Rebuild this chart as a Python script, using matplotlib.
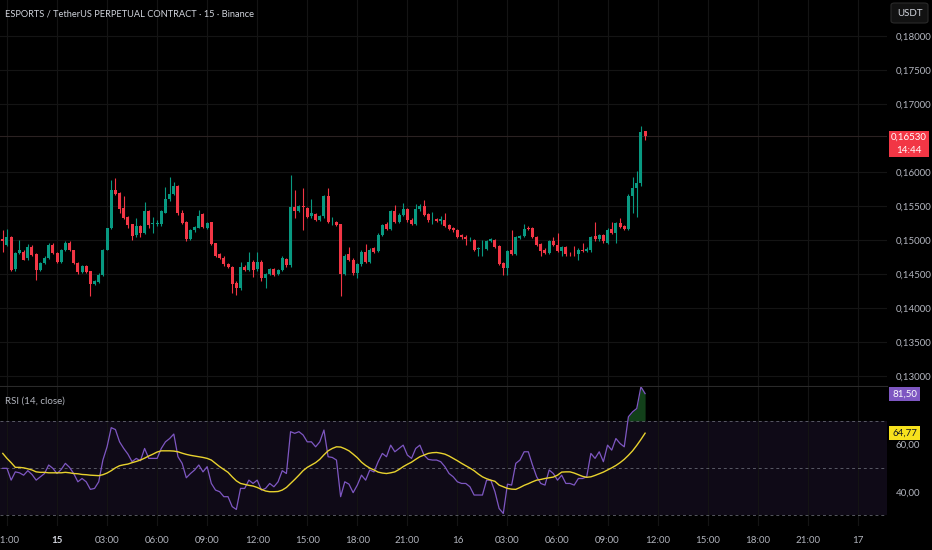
"""Recreate the ESPORTS/USDT 15m TradingView chart with RSI pane."""

import numpy as np
import matplotlib.pyplot as plt
import matplotlib.patches as mpatches

# ── Data ─────────────────────────────────────────────────────────────────────
opens = [
    0.1502, 0.1493, 0.1505, 0.1457, 0.1481, 0.1483, 0.1473, 0.1490, 0.1480, 0.1456,
    0.1466, 0.1474, 0.1493, 0.1481, 0.1468, 0.1485, 0.1496, 0.1485, 0.1466, 0.1453,
    0.1462, 0.1454, 0.1436, 0.1438, 0.1448, 0.1486, 0.1517, 0.1573, 0.1569, 0.1547,
    0.1534, 0.1523, 0.1507, 0.1520, 0.1510, 0.1542, 0.1523, 0.1524, 0.1523, 0.1540,
    0.1560, 0.1568, 0.1579, 0.1539, 0.1527, 0.1502, 0.1514, 0.1518, 0.1538, 0.1518,
    0.1526, 0.1495, 0.1479, 0.1474, 0.1464, 0.1461, 0.1437, 0.1429, 0.1461, 0.1456,
    0.1468, 0.1457, 0.1468, 0.1444, 0.1450, 0.1457, 0.1450, 0.1456, 0.1472, 0.1463,
    0.1548, 0.1543, 0.1550, 0.1547, 0.1535, 0.1538, 0.1530, 0.1535, 0.1564, 0.1526,
    0.1526, 0.1523, 0.1450, 0.1479, 0.1471, 0.1451, 0.1464, 0.1483, 0.1468, 0.1488,
    0.1484, 0.1508, 0.1524, 0.1516, 0.1542, 0.1527, 0.1537, 0.1545, 0.1530, 0.1524,
    0.1545, 0.1550, 0.1538, 0.1529, 0.1531, 0.1528, 0.1530, 0.1522, 0.1517, 0.1515,
    0.1507, 0.1505, 0.1501, 0.1500, 0.1487, 0.1488, 0.1487, 0.1499, 0.1500, 0.1491,
    0.1466, 0.1459, 0.1485, 0.1480, 0.1503, 0.1506, 0.1517, 0.1517, 0.1504, 0.1494,
    0.1486, 0.1481, 0.1498, 0.1493, 0.1484, 0.1489, 0.1480, 0.1480, 0.1479, 0.1486,
    0.1484, 0.1485, 0.1506, 0.1501, 0.1507, 0.1496, 0.1516, 0.1511, 0.1525, 0.1520,
    0.1516, 0.1565, 0.1576, 0.1584, 0.1660,
]
highs = [
    0.1515, 0.1516, 0.1506, 0.1483, 0.1500, 0.1486, 0.1494, 0.1492, 0.1481, 0.1467,
    0.1476, 0.1495, 0.1495, 0.1482, 0.1487, 0.1498, 0.1498, 0.1486, 0.1467, 0.1463,
    0.1463, 0.1455, 0.1441, 0.1451, 0.1487, 0.1518, 0.1588, 0.1591, 0.1570, 0.1564,
    0.1536, 0.1524, 0.1532, 0.1522, 0.1556, 0.1544, 0.1534, 0.1530, 0.1544, 0.1578,
    0.1593, 0.1586, 0.1581, 0.1544, 0.1528, 0.1516, 0.1521, 0.1544, 0.1540, 0.1527,
    0.1527, 0.1496, 0.1481, 0.1476, 0.1466, 0.1462, 0.1440, 0.1468, 0.1463, 0.1483,
    0.1470, 0.1483, 0.1470, 0.1452, 0.1459, 0.1459, 0.1458, 0.1476, 0.1474, 0.1596,
    0.1574, 0.1552, 0.1576, 0.1549, 0.1561, 0.1540, 0.1537, 0.1566, 0.1576, 0.1534,
    0.1528, 0.1524, 0.1479, 0.1490, 0.1473, 0.1466, 0.1485, 0.1494, 0.1488, 0.1490,
    0.1510, 0.1524, 0.1526, 0.1544, 0.1552, 0.1539, 0.1554, 0.1547, 0.1532, 0.1553,
    0.1553, 0.1559, 0.1540, 0.1541, 0.1533, 0.1535, 0.1539, 0.1524, 0.1519, 0.1516,
    0.1509, 0.1507, 0.1504, 0.1502, 0.1490, 0.1500, 0.1500, 0.1503, 0.1502, 0.1492,
    0.1467, 0.1486, 0.1515, 0.1506, 0.1508, 0.1524, 0.1521, 0.1519, 0.1506, 0.1496,
    0.1488, 0.1500, 0.1505, 0.1510, 0.1491, 0.1491, 0.1482, 0.1491, 0.1488, 0.1495,
    0.1489, 0.1506, 0.1527, 0.1509, 0.1509, 0.1517, 0.1527, 0.1527, 0.1532, 0.1522,
    0.1567, 0.1593, 0.1601, 0.1668, 0.1661,
]
lows = [
    0.1483, 0.1491, 0.1455, 0.1455, 0.1480, 0.1470, 0.1470, 0.1477, 0.1441, 0.1454,
    0.1464, 0.1472, 0.1480, 0.1466, 0.1466, 0.1484, 0.1484, 0.1465, 0.1450, 0.1451,
    0.1452, 0.1418, 0.1434, 0.1437, 0.1447, 0.1485, 0.1516, 0.1566, 0.1540, 0.1531,
    0.1517, 0.1500, 0.1505, 0.1505, 0.1509, 0.1518, 0.1510, 0.1520, 0.1521, 0.1539,
    0.1558, 0.1566, 0.1537, 0.1523, 0.1499, 0.1500, 0.1512, 0.1517, 0.1517, 0.1516,
    0.1493, 0.1475, 0.1472, 0.1462, 0.1459, 0.1422, 0.1419, 0.1427, 0.1454, 0.1454,
    0.1446, 0.1455, 0.1439, 0.1429, 0.1448, 0.1447, 0.1448, 0.1454, 0.1461, 0.1461,
    0.1532, 0.1541, 0.1515, 0.1532, 0.1533, 0.1528, 0.1528, 0.1533, 0.1525, 0.1522,
    0.1520, 0.1417, 0.1448, 0.1469, 0.1449, 0.1444, 0.1462, 0.1466, 0.1466, 0.1481,
    0.1482, 0.1506, 0.1514, 0.1514, 0.1525, 0.1525, 0.1535, 0.1527, 0.1522, 0.1522,
    0.1543, 0.1535, 0.1527, 0.1524, 0.1526, 0.1524, 0.1519, 0.1514, 0.1512, 0.1503,
    0.1502, 0.1493, 0.1499, 0.1484, 0.1476, 0.1476, 0.1485, 0.1497, 0.1488, 0.1463,
    0.1449, 0.1449, 0.1478, 0.1478, 0.1501, 0.1504, 0.1514, 0.1503, 0.1491, 0.1476,
    0.1479, 0.1479, 0.1491, 0.1482, 0.1476, 0.1477, 0.1477, 0.1477, 0.1471, 0.1483,
    0.1482, 0.1483, 0.1499, 0.1499, 0.1496, 0.1494, 0.1509, 0.1495, 0.1517, 0.1514,
    0.1514, 0.1540, 0.1534, 0.1580, 0.1647,
]
closes = [
    0.1498, 0.1505, 0.1456, 0.1481, 0.1485, 0.1471, 0.1490, 0.1478, 0.1456, 0.1466,
    0.1474, 0.1493, 0.1481, 0.1468, 0.1485, 0.1496, 0.1485, 0.1466, 0.1453, 0.1462,
    0.1453, 0.1436, 0.1439, 0.1449, 0.1486, 0.1517, 0.1573, 0.1568, 0.1545, 0.1533,
    0.1522, 0.1506, 0.1521, 0.1511, 0.1543, 0.1522, 0.1525, 0.1525, 0.1542, 0.1560,
    0.1568, 0.1579, 0.1539, 0.1525, 0.1501, 0.1514, 0.1519, 0.1535, 0.1519, 0.1525,
    0.1494, 0.1477, 0.1474, 0.1464, 0.1461, 0.1436, 0.1429, 0.1461, 0.1456, 0.1468,
    0.1456, 0.1468, 0.1444, 0.1450, 0.1457, 0.1449, 0.1456, 0.1473, 0.1463, 0.1548,
    0.1543, 0.1550, 0.1548, 0.1534, 0.1539, 0.1530, 0.1535, 0.1564, 0.1527, 0.1527,
    0.1522, 0.1450, 0.1477, 0.1471, 0.1451, 0.1465, 0.1483, 0.1468, 0.1486, 0.1483,
    0.1508, 0.1522, 0.1516, 0.1542, 0.1527, 0.1537, 0.1545, 0.1529, 0.1524, 0.1545,
    0.1550, 0.1537, 0.1529, 0.1530, 0.1528, 0.1531, 0.1521, 0.1516, 0.1514, 0.1505,
    0.1504, 0.1501, 0.1502, 0.1486, 0.1488, 0.1488, 0.1498, 0.1501, 0.1490, 0.1465,
    0.1459, 0.1484, 0.1480, 0.1504, 0.1506, 0.1516, 0.1516, 0.1505, 0.1493, 0.1484,
    0.1481, 0.1498, 0.1493, 0.1484, 0.1489, 0.1479, 0.1479, 0.1479, 0.1486, 0.1484,
    0.1487, 0.1504, 0.1501, 0.1507, 0.1498, 0.1515, 0.1511, 0.1525, 0.1519, 0.1516,
    0.1565, 0.1576, 0.1584, 0.1659, 0.1653,
]
rsi = [
    49.9, 49.9, 44.9, 48.4, 48.0, 47.0, 48.9, 47.3, 44.9, 46.3,
    47.7, 51.3, 49.9, 47.7, 49.4, 52.0, 50.3, 47.7, 44.2, 45.6,
    44.2, 41.0, 41.4, 44.2, 53.4, 59.0, 67.1, 66.3, 61.1, 58.3,
    55.9, 52.7, 54.1, 53.1, 58.3, 54.1, 54.1, 54.1, 58.3, 61.1,
    62.5, 64.4, 54.8, 52.0, 45.9, 47.7, 49.2, 51.3, 48.4, 50.6,
    43.5, 40.7, 40.0, 37.9, 37.9, 33.7, 32.5, 41.4, 41.4, 44.9,
    43.5, 44.9, 40.7, 41.4, 43.5, 42.1, 44.2, 48.9, 47.7, 65.4,
    64.7, 65.4, 64.0, 61.1, 61.1, 59.0, 61.1, 66.1, 54.8, 54.5,
    53.4, 37.9, 44.2, 43.2, 39.6, 42.8, 47.0, 44.9, 49.2, 48.4,
    52.7, 56.2, 54.8, 59.7, 56.9, 58.3, 59.7, 55.5, 54.1, 58.3,
    59.7, 55.5, 53.7, 53.4, 53.4, 52.7, 50.6, 47.7, 46.3, 44.2,
    43.5, 43.5, 42.1, 38.6, 38.6, 38.6, 44.9, 44.9, 40.0, 32.9,
    30.8, 43.2, 42.8, 52.0, 53.4, 56.9, 56.9, 51.3, 46.3, 43.5,
    42.8, 49.2, 47.7, 44.9, 47.0, 43.5, 43.5, 42.8, 45.6, 45.6,
    46.3, 56.2, 54.1, 56.9, 52.7, 59.7, 57.6, 62.5, 60.4, 59.0,
    71.7, 73.8, 75.2, 84.4, 81.5,
]
rsi_ma = [
    56.2, 54.1, 52.3, 50.3, 50.3, 50.1, 49.7, 49.2, 48.4, 48.2,
    48.2, 48.0, 48.0, 48.0, 48.0, 48.2, 48.0, 47.7, 47.6, 47.3,
    47.2, 47.0, 46.9, 46.8, 47.2, 47.9, 48.9, 50.1, 51.0, 51.4,
    51.7, 52.3, 52.8, 53.4, 54.2, 55.1, 55.9, 56.8, 57.3, 57.3,
    57.3, 57.2, 56.9, 56.3, 55.8, 55.4, 55.1, 54.8, 54.5, 54.1,
    53.4, 52.0, 50.6, 49.4, 48.2, 46.3, 44.6, 43.5, 43.1, 42.7,
    42.4, 41.8, 41.0, 40.3, 40.0, 40.0, 40.1, 40.7, 41.8, 43.5,
    45.2, 47.0, 48.9, 50.3, 51.3, 52.3, 53.7, 55.6, 57.3, 58.3,
    59.0, 58.9, 58.2, 57.3, 55.9, 54.4, 52.5, 51.1, 50.0, 49.2,
    48.3, 47.9, 47.7, 48.0, 48.4, 49.4, 50.6, 51.6, 52.5, 53.7,
    54.8, 55.5, 56.2, 56.5, 56.6, 56.3, 55.9, 55.1, 54.1, 53.1,
    52.0, 51.0, 50.0, 48.9, 47.5, 46.3, 45.5, 44.9, 44.4, 42.8,
    42.1, 41.4, 41.1, 41.0, 41.8, 42.7, 43.4, 44.2, 44.9, 45.2,
    45.6, 45.9, 46.2, 47.0, 48.3, 48.4, 48.4, 47.9, 47.2, 46.5,
    46.1, 46.3, 46.9, 47.6, 48.3, 49.2, 50.1, 51.1, 52.3, 53.7,
    55.4, 57.3, 59.6, 62.1, 64.77,
]

# 0,16500 sits under the last-price tag in the screenshot, so it is left out
price_ticks = [0.130, 0.135, 0.140, 0.145, 0.150, 0.155, 0.160, 0.170, 0.175, 0.180]
rsi_ticks = [40, 60]
time_labels = ["21:00", "15", "03:00", "06:00", "09:00", "12:00", "15:00", "18:00", "21:00",
               "16", "03:00", "06:00", "09:00", "12:00", "15:00", "18:00", "21:00", "17"]
last_price = 0.1653
countdown = "14:44"

# ── Style ────────────────────────────────────────────────────────────────────
BG = "#000000"
UP = "#089981"
DN = "#f23645"
TXT = "#b2b5be"
GRID = "#141414"
FS = 7
plt.rcParams["font.family"] = ["Lato", "DejaVu Sans"]
plt.rcParams["font.size"] = FS

W, H = 932, 550
fig = plt.figure(figsize=(W / 100, H / 100), dpi=100, facecolor=BG)
ax = fig.add_axes([0, 1 - 386 / H, 887 / W, 386 / H], facecolor=BG)
ax_rsi = fig.add_axes([0, 1 - 526 / H, 887 / W, 139 / H], facecolor=BG, sharex=ax)

x = np.arange(len(closes))
o = np.array(opens); h = np.array(highs); l = np.array(lows); c = np.array(closes)
cols = [UP if cc >= oo else DN for oo, cc in zip(o, c)]

# ── Price pane ───────────────────────────────────────────────────────────────
ax.vlines(x, l, h, colors=cols, lw=0.8, zorder=3)
body = np.maximum(np.abs(c - o), 0.00006)
ax.bar(x, body, bottom=np.minimum(o, c), width=0.72, color=cols, lw=0, zorder=4)
ax.axhline(last_price, color="#2b2222", lw=0.8, zorder=2)

ax.set_xlim(-0.67, 212.0)
ax.set_ylim(0.12853, 0.18529)
ax.set_yticks(price_ticks)
ax.set_yticklabels([f"{v:.5f}".replace(".", ",") for v in price_ticks])
ax.yaxis.tick_right()
ax.tick_params(axis="y", length=0, pad=6, colors=TXT, labelsize=FS)
ax.tick_params(axis="x", length=0, labelbottom=False)
ax.grid(True, color=GRID, lw=0.8)
for s in ("top", "left", "right"):
    ax.spines[s].set_visible(False)
ax.spines["bottom"].set_color("#2a2a2a")

ax.text(0.006, 0.964, "ESPORTS / TetherUS PERPETUAL CONTRACT · 15 · Binance",
        transform=ax.transAxes, ha="left", va="center", color="#d1d4dc", fontsize=6.7)

# ── RSI pane ─────────────────────────────────────────────────────────────────
r = np.array(rsi)
ax_rsi.axhspan(30, 70, color="#7e57c2", alpha=0.12, lw=0, zorder=1)
for lvl in (30, 50, 70):
    ax_rsi.axhline(lvl, color="#787b86", lw=0.7, ls=(0, (3, 3)), alpha=0.7, zorder=2)
ax_rsi.fill_between(x, r, 70, where=r >= 70, interpolate=True,
                    color="#1f6b2c", alpha=0.6, lw=0, zorder=3)
ax_rsi.plot(x, r, color="#7e57c2", lw=0.9, zorder=4)
ax_rsi.plot(x, rsi_ma, color="#e8d22e", lw=1.0, zorder=5)

ax_rsi.set_ylim(25.5, 84.3)
ax_rsi.set_yticks(rsi_ticks)
ax_rsi.set_yticklabels([f"{v:.2f}".replace(".", ",") for v in rsi_ticks])
ax_rsi.yaxis.tick_right()
ax_rsi.tick_params(axis="y", length=0, pad=6, colors=TXT, labelsize=FS)

time_pos = list(range(1, 1 + 12 * len(time_labels), 12))
ax_rsi.set_xticks(time_pos)
ax_rsi.set_xticklabels(time_labels)
ax_rsi.tick_params(axis="x", length=0, pad=7, colors=TXT, labelsize=FS)
for lab in ax_rsi.get_xticklabels():
    if lab.get_text() == "15":
        lab.set_fontweight("bold")
        lab.set_color("#d1d4dc")
ax_rsi.grid(True, axis="x", color=GRID, lw=0.8)
for s in ax_rsi.spines.values():
    s.set_visible(False)

ax_rsi.text(0.006, 0.9, "RSI (14, close)", transform=ax_rsi.transAxes,
            ha="left", va="center", color="#b2b5be", fontsize=FS)

# ── Right-scale tags ─────────────────────────────────────────────────────────
def tag(x0, y0, w, h, color, lines, txtcol="white", rounded=False, edge=None):
    if rounded:
        p = mpatches.FancyBboxPatch((x0 / W, 1 - (y0 + h) / H), w / W, h / H,
                                    boxstyle="round,pad=0,rounding_size=0.004",
                                    transform=fig.transFigure, fc=color,
                                    ec=edge or color, lw=0.8, zorder=10)
    else:
        p = mpatches.Rectangle((x0 / W, 1 - (y0 + h) / H), w / W, h / H,
                               transform=fig.transFigure, fc=color, ec="none", zorder=10)
    fig.add_artist(p)
    n = len(lines)
    for k, s in enumerate(lines):
        yy = y0 + h * (k + 0.5) / n
        fig.text((x0 + w / 2) / W, 1 - yy / H, s, ha="center", va="center",
                 color=txtcol, fontsize=FS, zorder=11)

tag(889, 131, 40, 26, DN, [f"{last_price:.5f}".replace(".", ","), countdown])
tag(889, 387, 31, 14, "#7e57c2", [f"{rsi[-1]:.2f}".replace(".", ",")])
tag(889, 426, 31, 14, "#f7e11d", [f"{rsi_ma[-1]:.2f}".replace(".", ",")], txtcol="#131722")
tag(891, 3, 37, 20, "#121212", ["USDT"], txtcol="#d1d4dc", rounded=True, edge="#2a2a2a")

fig.savefig("out.png", dpi=100, facecolor=BG)
